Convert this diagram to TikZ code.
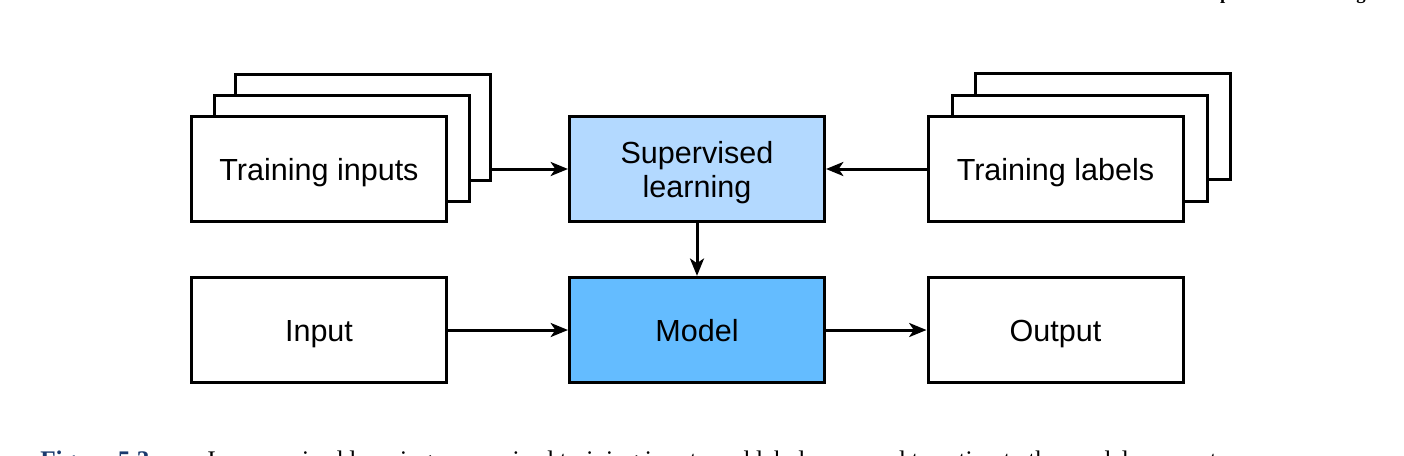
\documentclass[tikz,border=0pt]{standalone}
\usepackage{fontspec}
\setmainfont{Liberation Sans}
\newfontfamily\capfont{Liberation Serif}
\usetikzlibrary{arrows.meta,calc}
\definecolor{suplight}{HTML}{B3D9FF}
\definecolor{modelblue}{HTML}{64BCFF}
\definecolor{capblue}{HTML}{1A3A6E}
\tikzset{
  box/.style={draw=black, line width=2.25pt, fill=white, minimum width=191.25pt, minimum height=79pt, inner sep=0pt, align=center, font=\fontsize{22.9}{25.5}\selectfont, text height=21pt, text depth=4.5pt},
  twoline/.style={text height=46.5pt, text depth=4.5pt},
  conn/.style={line width=2.25pt, -{Stealth[length=13pt,width=10.5pt,inset=3.5pt]}},
}
\begin{document}
\begin{tikzpicture}[x=0.75pt,y=-0.75pt]
\useasboundingbox (0,0) rectangle (1404,455);
\clip (0,0) rectangle (1404,455);
% stacked training inputs
\node[box] (tib) at (363,127.5) {};
\node[box] (tim) at (342,148.5) {};
\node[box] (ti) at (319,169) {Training inputs};
% stacked training labels
\node[box] (tlb) at (1102.5,126.5) {};
\node[box] (tlm) at (1079.5,148.5) {};
\node[box] (tl) at (1055.5,169) {Training labels};
% middle column
\node[box, twoline, fill=suplight] (sup) at (697,169) {Supervised\\learning};
\node[box, fill=modelblue] (model) at (697,330) {Model};
\node[box] (in) at (319,330) {Input};
\node[box] (out) at (1055.5,330) {Output};
% connectors
\draw[conn] (tib.east |- sup.west) -- (sup.west);
\draw[conn] (tl.west) -- (sup.east);
\draw[conn] (sup.south) -- (model.north);
\draw[conn] (in.east) -- (model.west);
\draw[conn] (model.east) -- (out.west);
% clipped page header and caption
\node[anchor=base east, inner sep=0pt, font=\capfont\bfseries\fontsize{14}{16}\selectfont] (hdr) at (1366,-0.5) {Supervised Learning};
\node[anchor=base west, inner sep=0pt, font=\capfont\bfseries\fontsize{19}{22}\selectfont, text=capblue] (figlab) at (40,468) {Figure 5.3};
\node[anchor=base west, inner sep=0pt, font=\capfont\fontsize{19}{22}\selectfont] (cap) at (207,468) {In supervised learning, supervised training inputs and labels are used to estimate the model parameters.};
\end{tikzpicture}
\end{document}
